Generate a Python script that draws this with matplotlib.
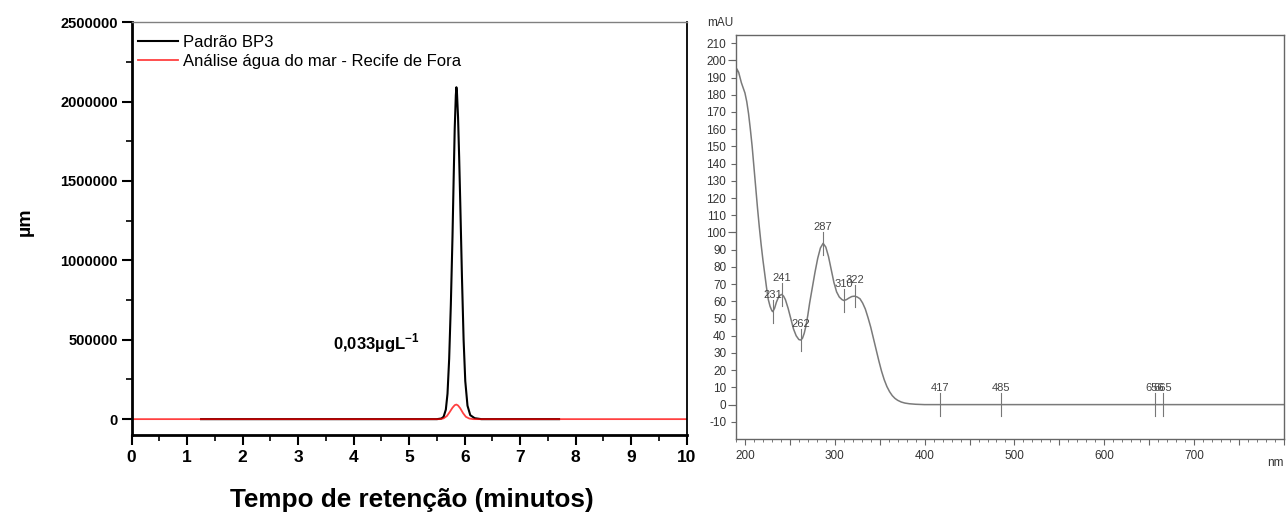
import matplotlib
matplotlib.use("Agg")
import matplotlib.pyplot as plt
from matplotlib.ticker import MultipleLocator, FixedLocator, FuncFormatter

plt.rcParams['font.family'] = ['Liberation Sans', 'DejaVu Sans']
plt.rcParams['mathtext.fontset'] = 'custom'
plt.rcParams['mathtext.rm'] = 'Liberation Sans'
plt.rcParams['mathtext.bf'] = 'Liberation Sans:bold'
plt.rcParams['axes.unicode_minus'] = False

# --- Chromatogram (retention time in minutes, signal) ---
bp3_time = [1.25, 5.50, 5.58, 5.62, 5.66, 5.69, 5.72, 5.75, 5.78, 5.80, 5.82, 5.84,
            5.85, 5.86, 5.88, 5.90, 5.92, 5.95, 5.98, 6.01, 6.05, 6.10, 6.18, 6.30, 7.70]
bp3_signal = [0, 0, 4000, 15000, 60000, 160000, 380000, 720000, 1150000, 1500000,
              1830000, 2040000, 2090000, 2060000, 1900000, 1650000, 1360000, 900000,
              500000, 240000, 85000, 25000, 6000, 0, 0]

sea_time = [0.0, 5.55, 5.62, 5.68, 5.73, 5.78, 5.82, 5.85, 5.88, 5.92,
            5.97, 6.02, 6.08, 6.15, 10.0]
sea_signal = [0, 0, 5000, 20000, 45000, 72000, 88000, 92000, 86000, 68000,
              38000, 15000, 4000, 0, 0]

legend_labels = ["Padrão BP3", "Análise água do mar - Recife de Fora"]
concentration_label = "0,033µgL$^{\\mathbf{-1}}$"

# --- UV spectrum (wavelength in nm, absorbance in mAU) ---
wavelength = [190, 191, 193, 196, 198, 200, 202, 204, 206, 208, 210, 212, 214, 216,
              218, 220, 222, 224, 226, 228, 230, 231, 233, 235, 237, 239, 241, 243,
              245, 248, 251, 254, 257, 260, 262, 264, 266, 268, 270, 272, 275, 278,
              281, 284, 287, 290, 293, 296, 299, 302, 305, 308, 310, 313, 316, 319,
              322, 325, 328, 331, 334, 337, 340, 343, 346, 349, 352, 355, 358, 361,
              364, 367, 370, 374, 378, 383, 390, 400, 800]
absorbance = [188, 195, 193, 187, 184, 181, 176, 169, 160, 150, 138, 126, 114, 103,
              93, 84, 76, 68, 61, 57, 54.5, 54, 56, 59.5, 62, 63.5, 64, 63,
              61, 56, 50, 44, 40, 37.8, 37.5, 38.5, 41.5, 46, 52, 59, 68, 77,
              85, 91, 93.7, 91.5, 86, 78.5, 71, 65.5, 62.5, 61, 60.5, 61, 62, 62.8,
              63, 62.5, 61.5, 59, 55.5, 50.5, 45, 38.5, 32, 25.5, 19.5, 14.5, 10.5, 7.5,
              5.2, 3.6, 2.5, 1.5, 0.9, 0.5, 0.2, 0, 0]

peak_nm = [231, 241, 262, 287, 310, 322, 417, 485, 656, 665]
peak_mau = [54, 64, 37.5, 93.7, 60.5, 63, 0, 0, 0, 0]
peak_text = ["231", "241", "262", "287", "310", "322", "417", "485", "656", "665"]

fig = plt.figure(figsize=(12.86, 5.15), dpi=100)

# ---------------- left panel ----------------
ax1 = fig.add_axes([0.1024, 0.1553, 0.4316, 0.8017])
ax1.plot(bp3_time, bp3_signal, color='black', lw=1.5, label=legend_labels[0])
ax1.plot(sea_time, sea_signal, color='red', lw=1.3, alpha=0.75, label=legend_labels[1])
ax1.set_xlim(0, 10)
ax1.set_ylim(-100000, 2500000)
ax1.xaxis.set_major_locator(MultipleLocator(1))
ax1.xaxis.set_minor_locator(MultipleLocator(0.5))
ax1.yaxis.set_major_locator(MultipleLocator(500000))
ax1.yaxis.set_minor_locator(MultipleLocator(250000))
ax1.yaxis.set_major_formatter(FuncFormatter(lambda v, p: f"{int(round(v))}"))
ax1.tick_params(which='major', direction='out', length=7, width=1.5, colors='black')
ax1.tick_params(which='minor', direction='out', length=4, width=1.2, colors='black')
ax1.tick_params(axis='x', labelsize=12.5, pad=4)
ax1.tick_params(axis='y', labelsize=10.5, pad=3)
for lab in ax1.get_xticklabels() + ax1.get_yticklabels():
    lab.set_fontweight('bold')
ax1.spines['left'].set_linewidth(2)
ax1.spines['bottom'].set_linewidth(2)
ax1.spines['right'].set_linewidth(1.3)
ax1.spines['top'].set_linewidth(1.0)
ax1.spines['top'].set_color('#808080')
ax1.set_xlabel("Tempo de retenção (minutos)", fontsize=18.8, fontweight='bold')
ax1.xaxis.set_label_coords(0.505, -0.128)
ax1.set_ylabel("µm", fontsize=14, fontweight='bold')
ax1.yaxis.set_label_coords(-0.176, 0.516)
ax1.text(3.63, 437000, concentration_label, fontsize=12, fontweight='bold',
         ha='left', va='baseline')
ax1.legend(loc='upper left', bbox_to_anchor=(0.012, 0.97), frameon=False,
           fontsize=12, handlelength=2.4, handletextpad=0.25, borderpad=0,
           borderaxespad=0, labelspacing=0.25)

# ---------------- right panel ----------------
grey = '#7a7a7a'
ax2 = fig.add_axes([0.5723, 0.1485, 0.4261, 0.7835])
ax2.plot(wavelength, absorbance, color=grey, lw=1.1)
for nm, mau, txt in zip(peak_nm, peak_mau, peak_text):
    ax2.plot([nm, nm], [mau - 6.5, mau + 6.5], color='#777777', lw=0.8)
    ax2.text(nm, mau + 6.5, txt, fontsize=8, color='#444444', ha='center', va='bottom')
ax2.set_xlim(190, 800)
ax2.set_ylim(-19.7, 214.7)
ax2.xaxis.set_major_locator(MultipleLocator(50))
ax2.xaxis.set_minor_locator(MultipleLocator(10))
ax2.xaxis.set_major_formatter(
    FuncFormatter(lambda v, p: f"{int(v)}" if v % 100 == 0 and v < 800 else ""))
ax2.yaxis.set_major_locator(FixedLocator(list(range(-10, 211, 10))))
ax2.yaxis.remove_overlapping_locs = False
ax2.yaxis.set_minor_locator(FixedLocator([0, 100, 200]))
ax2.tick_params(which='major', direction='out', length=3.5, width=0.8, colors='#666666',
                labelcolor='#333333', labelsize=8.5)
ax2.tick_params(axis='x', which='major', length=4.5)
ax2.tick_params(axis='y', which='minor', length=6, width=0.8, colors='#666666')
ax2.tick_params(axis='x', which='minor', length=2.5, width=0.7, colors='#777777')
for sp in ax2.spines.values():
    sp.set_color('#666666')
    sp.set_linewidth(1.0)
ax2.text(0.985, -0.061, "nm", transform=ax2.transAxes, fontsize=8.5, color='#333333',
         ha='center', va='center')
ax2.text(-0.029, 1.03, "mAU", transform=ax2.transAxes, fontsize=8.5, color='#333333',
         ha='center', va='center')

fig.savefig("out.png", dpi=100)
